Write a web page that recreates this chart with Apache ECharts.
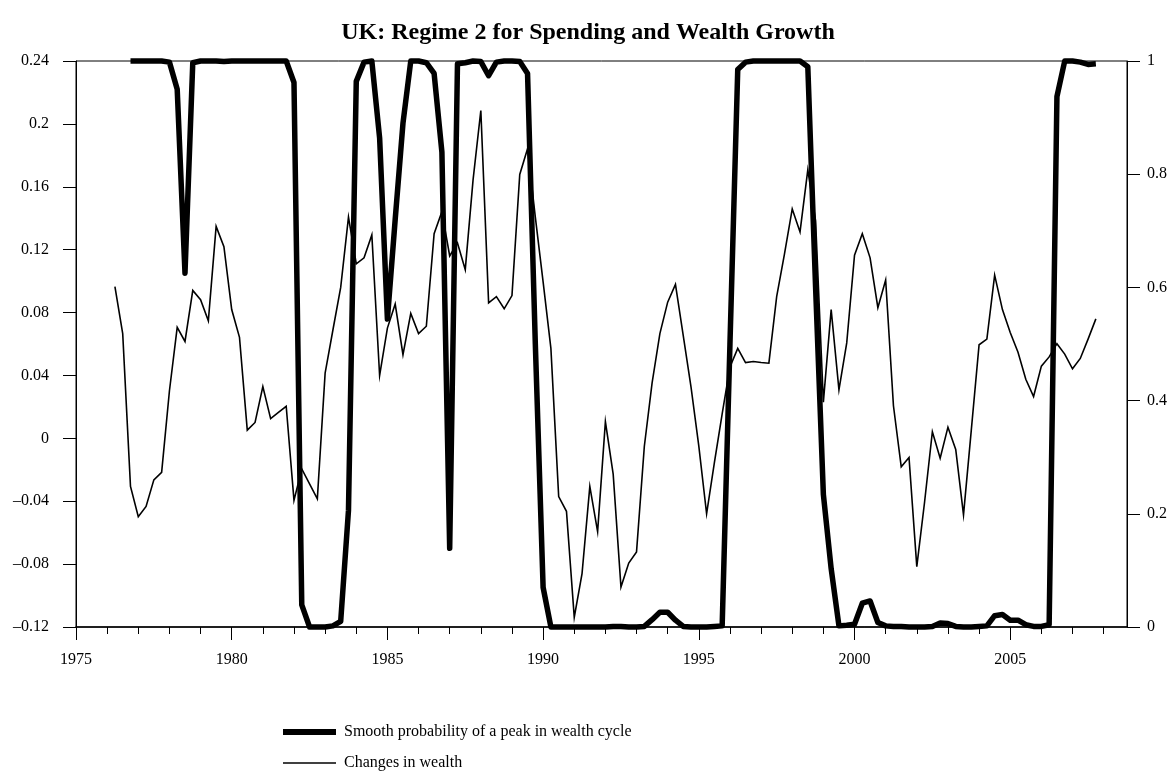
<!DOCTYPE html>
<html>
<head>
<meta charset="utf-8">
<script src="https://cdn.jsdelivr.net/npm/echarts@6/dist/echarts.min.js"></script>
<style>
html, body { margin: 0; padding: 0; background: #ffffff; }
#chart { width: 1176px; height: 774px; }
</style>
</head>
<body>
<div id="chart"></div>
<script>
// ---------------- data ----------------
const titleText = 'UK: Regime 2 for Spending and Wealth Growth';
const probName = 'Smooth probability of a peak in wealth cycle';
const wealthName = 'Changes in wealth';

const tickYears = [1975, 1976, 1977, 1978, 1979, 1980, 1981, 1982, 1983, 1984,
  1985, 1986, 1987, 1988, 1989, 1990, 1991, 1992, 1993, 1994, 1995, 1996, 1997,
  1998, 1999, 2000, 2001, 2002, 2003, 2004, 2005, 2006, 2007, 2008];
const labelYears = [1975, 1980, 1985, 1990, 1995, 2000, 2005];

// quarterly observations
const quarterStep = 0.25;
const wealthStart = 1976.25;   // 1976 Q2
const probStart = 1976.75;     // 1976 Q4

const wealthChange = [
  0.0965, 0.0666, -0.0306,                 // 1976 Q2-Q4
  -0.0499, -0.0433, -0.0264, -0.0216,      // 1977
  0.0301, 0.0706, 0.0616, 0.0941,          // 1978
  0.0882, 0.0748, 0.1348, 0.1219,          // 1979
  0.0819, 0.0642, 0.0052, 0.0101,          // 1980
  0.0329, 0.0125, 0.0165, 0.0204,          // 1981
  -0.0395, -0.0195, -0.029, -0.0385,       // 1982
  0.0415, 0.0689, 0.096, 0.1407,           // 1983
  0.111, 0.1148, 0.1294, 0.04,             // 1984
  0.0701, 0.0854, 0.0532, 0.0795,          // 1985
  0.0666, 0.0713, 0.1301, 0.1442,          // 1986
  0.116, 0.1242, 0.1073, 0.1642,           // 1987
  0.2085, 0.0861, 0.0901, 0.0824,          // 1988
  0.0908, 0.1678, 0.1842, 0.1407,          // 1989
  0.0995, 0.0572, -0.037, -0.0464,         // 1990
  -0.1139, -0.086, -0.0306, -0.0593,       // 1991
  0.0106, -0.0228, -0.0946, -0.0793,       // 1992
  -0.0722, -0.0052, 0.0353, 0.0666,        // 1993
  0.0866, 0.0979, 0.0654, 0.0325,          // 1994
  -0.005, -0.048, -0.0155, 0.0155,         // 1995
  0.0454, 0.0572, 0.0482, 0.0489,          // 1996
  0.0482, 0.0478, 0.0901, 0.1172,          // 1997
  0.1459, 0.1313, 0.1708, 0.1384,          // 1998
  0.023, 0.0819, 0.0308, 0.0607,           // 1999
  0.1165, 0.1301, 0.1148, 0.0831,          // 2000
  0.1007, 0.0207, -0.0181, -0.0122,        // 2001
  -0.0816, -0.0405, 0.0042, -0.0127,       // 2002
  0.0071, -0.0071, -0.0487, 0.0052,        // 2003
  0.0595, 0.0631, 0.1038, 0.0819,          // 2004
  0.0673, 0.0548, 0.0376, 0.0266,          // 2005
  0.0459, 0.0518, 0.0602, 0.0536,          // 2006
  0.0442, 0.0508, 0.0631, 0.076            // 2007
];

const peakProb = [
  1.0,                                     // 1976 Q4
  1.0, 1.0, 1.0, 1.0,                      // 1977
  0.998, 0.95, 0.625, 0.997,               // 1978
  1.0, 1.0, 1.0, 0.999,                    // 1979
  1.0, 1.0, 1.0, 1.0,                      // 1980
  1.0, 1.0, 1.0, 1.0,                      // 1981
  0.962, 0.039, 0.0, 0.0,                  // 1982
  0.0, 0.002, 0.01, 0.206,                 // 1983
  0.964, 0.998, 1.0, 0.864,                // 1984
  0.544, 0.72, 0.89, 1.0,                  // 1985
  1.0, 0.997, 0.978, 0.839,                // 1986
  0.139, 0.995, 0.997, 1.0,                // 1987
  0.999, 0.974, 0.998, 1.0,                // 1988
  1.0, 0.999, 0.978, 0.5,                  // 1989
  0.07, 0.0, 0.0, 0.0,                     // 1990
  0.0, 0.0, 0.0, 0.0,                      // 1991
  0.0, 0.001, 0.001, 0.0,                  // 1992
  0.0, 0.001, 0.013, 0.026,                // 1993
  0.026, 0.012, 0.001, 0.0,                // 1994
  0.0, 0.0, 0.001, 0.002,                  // 1995
  0.5, 0.985, 0.998, 1.0,                  // 1996
  1.0, 1.0, 1.0, 1.0,                      // 1997
  1.0, 1.0, 0.99, 0.6,                     // 1998
  0.234, 0.103, 0.002, 0.003,              // 1999
  0.005, 0.042, 0.046, 0.008,              // 2000
  0.002, 0.001, 0.001, 0.0,                // 2001
  0.0, 0.0, 0.001, 0.007,                  // 2002
  0.006, 0.001, 0.0, 0.0,                  // 2003
  0.001, 0.002, 0.02, 0.022,               // 2004
  0.012, 0.012, 0.004, 0.001,              // 2005
  0.001, 0.004, 0.937, 1.0,                // 2006
  1.0, 0.998, 0.994, 0.995                 // 2007
];

// ---------------- chart ----------------
const FONT = "'Liberation Serif', 'Times New Roman', serif";
const INK = '#000000';

const wealthData = wealthChange.map((v, i) => [wealthStart + i * quarterStep, v]);
const probData = peakProb.map((v, i) => [probStart + i * quarterStep, v]);

function leftFmt(v) {
  const s = String(+Number(v).toFixed(2));
  return s.replace('-', '\u2013');
}

const legendText = { fontFamily: FONT, fontSize: 16, color: INK, padding: [0, 0, 0, 3] };

const chart = echarts.init(document.getElementById('chart'), null, { renderer: 'canvas' });
chart.setOption({
  animation: false,
  backgroundColor: '#ffffff',
  title: {
    text: titleText,
    left: 'center',
    top: 21,
    padding: 0,
    textStyle: { fontFamily: FONT, fontSize: 24, fontWeight: 'bold', color: INK }
  },
  legend: [
    {
      orient: 'vertical', left: 283, top: 724, padding: 0,
      itemWidth: 53, itemHeight: 6, icon: 'rect',
      data: [probName], selectedMode: false,
      textStyle: legendText
    },
    {
      orient: 'vertical', left: 283, top: 755, padding: 0,
      itemWidth: 53, itemHeight: 1.6, icon: 'rect',
      data: [wealthName], selectedMode: false,
      textStyle: legendText
    }
  ],
  grid: {
    left: 76, right: 49, top: 61, bottom: 147,
    show: true, borderColor: INK, borderWidth: 1, backgroundColor: 'transparent',
    containLabel: false, outerBoundsMode: 'none'
  },
  xAxis: [
    {
      type: 'value', min: 1975, max: 2008.75, position: 'bottom',
      axisLine: { show: true, onZero: false, lineStyle: { color: INK, width: 1.5 } },
      axisTick: { show: true, customValues: tickYears, length: 7, lineStyle: { color: INK, width: 1 } },
      axisLabel: {
        show: true, customValues: labelYears, margin: 25,
        fontFamily: FONT, fontSize: 16, color: INK,
        formatter: v => String(Math.round(v))
      },
      splitLine: { show: false }
    },
    {
      type: 'value', min: 1975, max: 2008.75, position: 'bottom',
      axisLine: { show: false, onZero: false },
      axisTick: { show: true, customValues: labelYears, length: 13, lineStyle: { color: INK, width: 1 } },
      axisLabel: { show: false },
      splitLine: { show: false }
    }
  ],
  yAxis: [
    {
      type: 'value', position: 'left', min: -0.12, max: 0.24, interval: 0.04,
      axisLine: { show: true, onZero: false, lineStyle: { color: INK, width: 1 } },
      axisTick: { show: true, length: 13, lineStyle: { color: INK, width: 1 } },
      axisLabel: { margin: 27, fontFamily: FONT, fontSize: 16, color: INK, formatter: leftFmt },
      splitLine: { show: false }
    },
    {
      type: 'value', position: 'right', min: 0, max: 1, interval: 0.2,
      axisLine: { show: true, onZero: false, lineStyle: { color: INK, width: 1 } },
      axisTick: { show: true, length: 13, lineStyle: { color: INK, width: 1 } },
      axisLabel: { margin: 20, fontFamily: FONT, fontSize: 16, color: INK,
        formatter: v => String(+Number(v).toFixed(2)) },
      splitLine: { show: false }
    }
  ],
  series: [
    {
      name: wealthName, type: 'line', xAxisIndex: 0, yAxisIndex: 0,
      data: wealthData, symbol: 'none', showSymbol: false, clip: false, z: 2,
      lineStyle: { color: INK, width: 1.6, join: 'miter' },
      itemStyle: { color: INK }
    },
    {
      name: probName, type: 'line', xAxisIndex: 0, yAxisIndex: 1,
      data: probData, symbol: 'none', showSymbol: false, clip: false, z: 3,
      lineStyle: { color: INK, width: 5.5, join: 'round' },
      itemStyle: { color: INK }
    }
  ]
});
</script>
</body>
</html>
